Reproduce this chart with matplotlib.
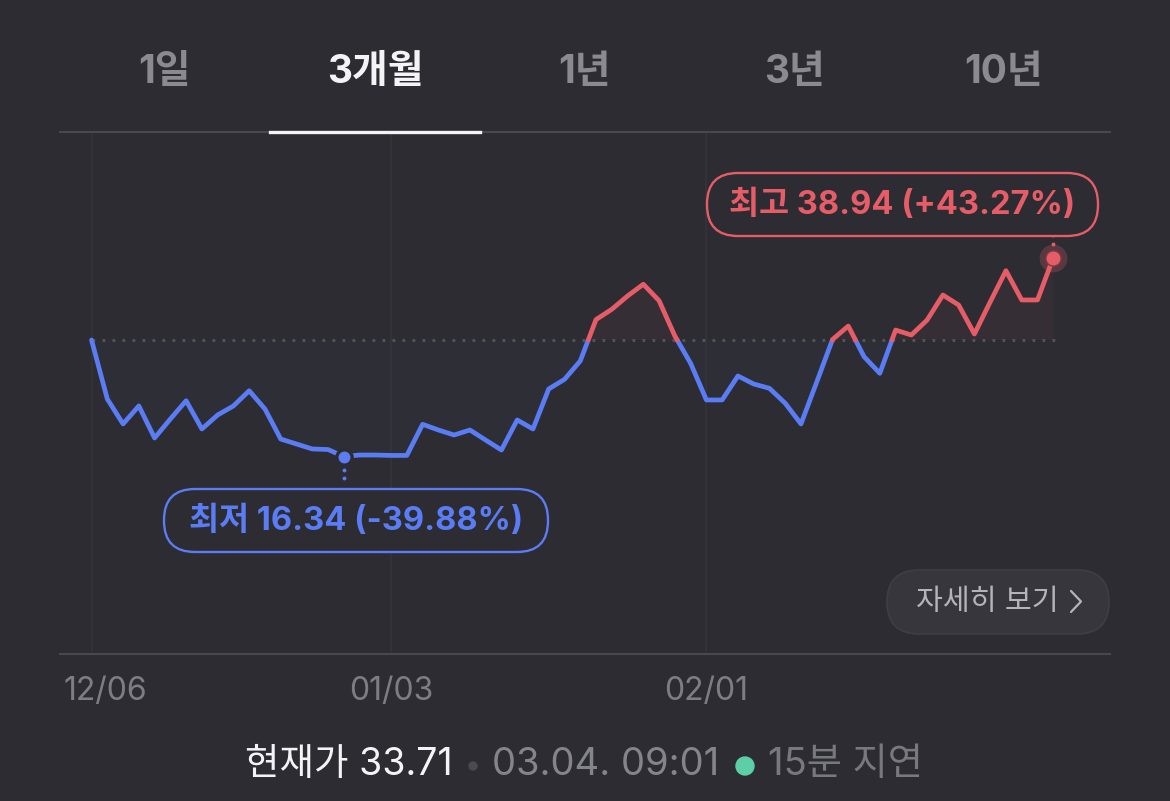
import numpy as np
import matplotlib
matplotlib.use('Agg')
import matplotlib.pyplot as plt
from matplotlib.patches import FancyBboxPatch, Circle
from matplotlib.lines import Line2D
from matplotlib.transforms import Affine2D, offset_copy

plt.rcParams['font.family'] = ['Inter', 'Noto Sans CJK KR']

W, H = 1170, 801
BG = '#2c2c32'
BLUE = '#5a7cf4'
RED = '#e65d68'
GRID = '#343439'
AXLINE = '#48484e'

# ---- data (trading days 2021-12-06 .. 2022-03-04) ----
tabs = ['1일', '3개월', '1년', '3년', '10년']
active_tab = 1
tick_idx = [0, 19, 39]
tick_labels = ['12/06', '01/03', '02/01']
prices = [27.18, 21.01, 18.84, 20.38, 17.72, 19.25, 20.85, 18.43, 19.59, 20.38,
          21.78, 20.11, 17.64, 17.26, 16.89, 16.85, 16.34, 16.45, 16.45, 16.42,
          16.42, 18.81, 18.35, 17.95, 18.35, 17.56, 16.81, 19.17, 18.43, 21.95,
          22.89, 24.80, 29.72, 31.08, 32.94, 34.67, 32.27, 27.66, 24.55, 20.92,
          20.92, 23.23, 22.43, 22.01, 20.62, 18.84, 22.63, 27.24, 28.89, 25.27,
          23.50, 28.39, 27.78, 29.66, 33.08, 31.67, 27.90, 32.09, 36.79, 32.37,
          32.37, 38.94]
low_label = '최저 16.34 (-39.88%)'
high_label = '최고 38.94 (+43.27%)'
current_price = '현재가 33.71'
quote_time = '03.04. 09:01'
delay_text = '15분 지연'
detail_text = '자세히 보기'

x = np.arange(len(prices))
y = np.array(prices)
base = y[0]
i_lo, i_hi = int(np.argmin(y)), int(np.argmax(y))


def split_at_base(x, y, b):
    # insert crossing points so the line can change colour at the base value
    xs, ys = [x[0]], [y[0]]
    for i in range(1, len(x)):
        y0, y1 = y[i - 1], y[i]
        if (y0 - b) * (y1 - b) < 0:
            t = (np.log(b) - np.log(y0)) / (np.log(y1) - np.log(y0))
            xs.append(x[i - 1] + t * (x[i] - x[i - 1]))
            ys.append(b)
        xs.append(x[i])
        ys.append(y[i])
    return np.array(xs, float), np.array(ys, float)


fig = plt.figure(figsize=(W / 100, H / 100), dpi=100, facecolor=BG)
PIX = Affine2D().scale(1, -1).translate(0, H)   # top-left pixel coords

ax = fig.add_axes([60 / W, 1 - 654 / H, 1050 / W, (654 - 132) / H])
ax.set_facecolor(BG)
ax.set_yscale('log')
ax.set_xlim(-2.0, 64.6)
ax.set_ylim(6.90, 67.4)
ax.set_xticks([])
ax.set_yticks([])
ax.minorticks_off()
for s in ['left', 'right']:
    ax.spines[s].set_visible(False)
for s in ['top', 'bottom']:
    ax.spines[s].set_color(AXLINE)
    ax.spines[s].set_linewidth(1.5)

for i in tick_idx:
    ax.axvline(i, color=GRID, lw=1.2, zorder=0)

xs, ys = split_at_base(x, y, base)
ax.fill_between(xs, ys, base, where=ys >= base, color=RED, alpha=0.06, lw=0)
ax.fill_between(xs, ys, base, where=ys <= base, color='#6a7fb0', alpha=0.035, lw=0)
ax.hlines(base, 0, x[-1] + 0.5, color='#56565d', lw=2.0, linestyles=(0, (1.0, 2.6)))

up = np.where(ys >= base, ys, np.nan)
dn = np.where(ys <= base, ys, np.nan)
ax.plot(xs, dn, color=BLUE, lw=3.4, solid_capstyle='round', solid_joinstyle='round')
ax.plot(xs, up, color=RED, lw=3.4, solid_capstyle='round', solid_joinstyle='round')

# low / high markers
ax.plot(x[i_lo], y[i_lo], 'o', ms=11, color=BLUE, mec=BG, mew=2.4, zorder=5)
for dy in (-13, -21):
    tr = offset_copy(ax.transData, fig=fig, x=0, y=dy, units='dots')
    ax.plot(x[i_lo], y[i_lo], 'o', ms=2.8, color=BLUE, mew=0, transform=tr)
ax.plot(x[i_hi], y[i_hi], 'o', ms=20, color=RED, alpha=0.25, mew=0, zorder=5)
ax.plot(x[i_hi], y[i_hi], 'o', ms=11, color=RED, mec='#7a3a40', mew=1.0, zorder=6)
for dy in (14, 23):
    tr = offset_copy(ax.transData, fig=fig, x=0, y=dy, units='dots')
    ax.plot(x[i_hi], y[i_hi], 'o', ms=2.8, color=RED, mew=0, transform=tr)

# date labels under the axis (first one clamped to the left edge)
for k, (i, lab) in enumerate(zip(tick_idx, tick_labels)):
    ax.annotate(lab, xy=(i, 0), xycoords=('data', 'axes fraction'),
                xytext=(13.5 if k == 0 else 0, -37), textcoords='offset pixels',
                ha='center', va='center', fontsize=23, color='#7d7d84')

# pill labels for low / high
fig.add_artist(FancyBboxPatch((164, 489), 384, 63, boxstyle='round,pad=0,rounding_size=31',
                              transform=PIX, fc=BG, ec=BLUE, lw=1.7))
fig.text(356, 521, low_label, transform=PIX, ha='center', va='center',
         fontsize=23.5, fontweight='bold', color=BLUE)
fig.add_artist(FancyBboxPatch((707, 173), 391, 63, boxstyle='round,pad=0,rounding_size=31',
                              transform=PIX, fc=BG, ec=RED, lw=1.7))
fig.text(902, 205, high_label, transform=PIX, ha='center', va='center',
         fontsize=23.5, fontweight='bold', color=RED)

# detail button
fig.add_artist(FancyBboxPatch((887, 570), 222, 64, boxstyle='round,pad=0,rounding_size=32',
                              transform=PIX, fc='#36363c', ec='#3e3e44', lw=1.2))
fig.text(987, 602, detail_text, transform=PIX, ha='center', va='center',
         fontsize=21, color='#b4b4ba')
fig.add_artist(Line2D([1071, 1081, 1071], [591, 601.5, 612], transform=PIX,
                      color='#b4b4ba', lw=1.6, solid_capstyle='round', solid_joinstyle='round'))

# period tabs
for k, (t, cx) in enumerate(zip(tabs, [164, 375, 584, 794, 1004])):
    fig.text(cx, 73, t, transform=PIX, ha='center', va='center', fontsize=28,
             fontweight='bold', color='#f4f4f6' if k == active_tab else '#8a8a90')
fig.add_artist(Line2D([270, 480], [131.5, 131.5], transform=PIX, color='#f4f4f6', lw=2.4))

# footer
fig.text(245, 765, current_price, transform=PIX, ha='left', va='center',
         fontsize=27, color='#f4f4f6')
fig.add_artist(Circle((473, 766), 4, transform=PIX, color='#4a4a50'))
fig.text(492, 765, quote_time, transform=PIX, ha='left', va='center',
         fontsize=27.5, color='#84848b')
fig.add_artist(Circle((745, 766), 9, transform=PIX, color='#5ccfa6'))
fig.text(768, 765, delay_text, transform=PIX, ha='left', va='center',
         fontsize=27.5, color='#78787f')

fig.savefig('out.png', dpi=100, facecolor=BG)
